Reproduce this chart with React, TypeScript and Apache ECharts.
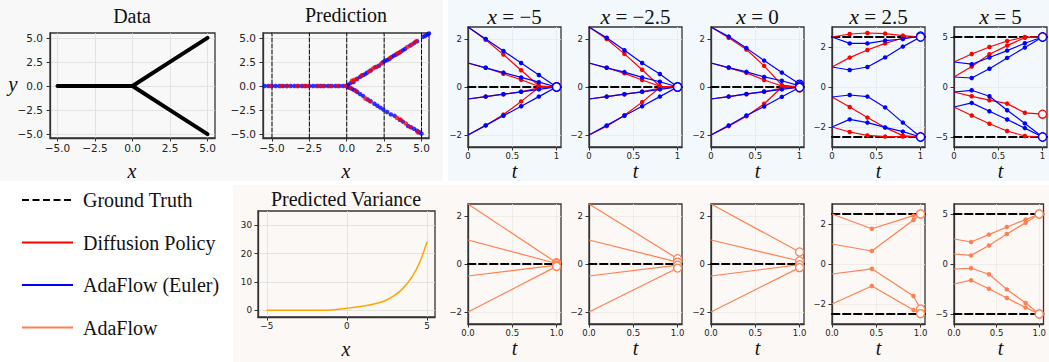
import React, { useEffect, useRef } from 'react';
import * as echarts from 'echarts';

// ---------------- data ----------------
const DATA_FLAT = [[-5, 0], [-2.5, 0], [0, 0]];
const DATA_UP = [[0, 0], [2.5, 2.5], [5, 5]];
const DATA_DOWN = [[0, 0], [2.5, -2.5], [5, -5]];

const PANEL_X = [-5, -2.5, 0, 2.5, 5];
const PANEL_LABELS = ['−5', '−2.5', '0', '2.5', '5'];

const PRED_BLUE = [
  [-5.5, 0], [-5.25, 0], [-5.0, 0], [-4.75, 0], [-4.5, 0], [-4.25, 0], [-4.0, 0], [-3.75, 0], [-3.5, 0],
  [-3.25, 0], [-3.0, 0], [-2.75, 0], [-2.5, 0], [-2.25, 0], [-2.0, 0], [-1.75, 0], [-1.5, 0], [-1.25, 0],
  [-1.0, 0], [-0.75, 0], [-0.5, 0], [-0.25, 0], [0, 0],
  [0.1, 0.12], [0.25, 0.3], [0.45, 0.4], [0.7, 0.75], [0.9, 0.95], [1.05, 1.1], [1.2, 1.2], [1.35, 1.38],
  [1.6, 1.6], [1.9, 1.95], [2.15, 2.1], [2.4, 2.45], [2.55, 2.6], [2.7, 2.7], [2.85, 2.8], [3.0, 3.0],
  [3.15, 3.15], [3.3, 3.25], [3.45, 3.4], [3.6, 3.55], [3.75, 3.7], [3.9, 3.85], [4.25, 4.2], [4.5, 4.45],
  [4.7, 4.65], [5.1, 5.1], [5.25, 5.2], [5.4, 5.35], [5.5, 5.45],
  [0.1, -0.1], [0.2, -0.2], [0.35, -0.3], [0.5, -0.42], [0.7, -0.62], [0.9, -0.85], [1.1, -1.05], [1.4, -1.4],
  [1.6, -1.6], [1.85, -1.85], [2.05, -2.05], [2.25, -2.25], [2.45, -2.45], [2.7, -2.7], [2.95, -2.95],
  [3.2, -3.1], [3.55, -3.5], [3.75, -3.7], [4.1, -4.15], [4.3, -4.3], [4.5, -4.45], [4.7, -4.65],
  [4.85, -4.8], [5.0, -4.95], [5.5, -5.45],
];
const PRED_RED = [
  [-5.1, 0], [-4.4, 0], [-4.0, 0], [-3.3, 0], [-2.85, 0], [-2.6, 0], [-1.9, 0], [-1.6, 0], [-1.1, 0], [-0.6, 0], [-0.1, 0],
  [0.35, 0.55], [0.5, 0.62], [0.65, 0.7], [1.0, 1.1], [1.5, 1.5], [1.75, 1.8], [2.0, 2.0], [2.3, 2.3],
  [2.9, 2.9], [3.35, 3.35], [3.55, 3.5], [4.05, 4.05], [4.35, 4.3], [4.6, 4.6],
  [0.25, -0.2], [0.6, -0.5], [1.25, -1.3], [1.55, -1.55], [3.35, -3.3], [3.6, -3.5], [3.95, -3.9],
  [4.25, -4.25], [4.75, -4.8],
];

const T_EULER = [0, 0.2, 0.4, 0.6, 0.8, 1];

// Diffusion Policy trajectories (per query x, 4 starts)
const DP_TRAJ = [
  [[2.5, 1.97, 1.35, 0.7, 0.05, 0], [1, 0.8, 0.55, 0.3, 0.02, 0], [-0.5, -0.4, -0.3, -0.2, -0.04, 0], [-2, -1.6, -1.15, -0.6, -0.02, 0]],
  [[2.5, 2.0, 1.38, 0.72, 0.03, 0], [1, 0.8, 0.57, 0.29, 0.03, 0], [-0.5, -0.4, -0.3, -0.2, -0.05, 0], [-2, -1.63, -1.18, -0.63, -0.02, 0]],
  [[2.5, 2.05, 1.56, 0.88, 0.08, 0], [1, 0.8, 0.59, 0.29, 0.04, 0], [-0.5, -0.4, -0.3, -0.2, -0.05, -0.02], [-2, -1.63, -1.22, -0.7, -0.01, -0.04]],
  [[2.5, 2.65, 2.7, 2.67, 2.57, 2.5], [1, 1.47, 1.85, 2.18, 2.45, 2.5], [-0.5, -1.0, -1.53, -2.03, -2.43, -2.5], [-2, -2.25, -2.42, -2.48, -2.48, -2.5]],
  [[2.5, 3.3, 4.0, 4.6, 5.0, 5.0], [1, 2.05, 3.28, 4.14, 4.93, 5], [-0.5, -0.93, -1.32, -1.66, -2.58, -2.72], [-2, -2.85, -3.68, -4.4, -4.9, -5]],
];
// AdaFlow (Euler) trajectories
const EULER_TRAJ = [
  [[2.5, 2.0, 1.5, 1.0, 0.5, 0], [1, 0.8, 0.6, 0.4, 0.2, 0], [-0.5, -0.4, -0.3, -0.2, -0.1, 0], [-2, -1.6, -1.2, -0.8, -0.4, 0]],
  [[2.5, 2.05, 1.53, 1.0, 0.54, 0], [1, 0.8, 0.62, 0.4, 0.22, 0], [-0.5, -0.4, -0.3, -0.2, -0.1, 0], [-2, -1.6, -1.2, -0.8, -0.4, 0]],
  [[2.5, 2.1, 1.62, 1.1, 0.6, 0.12], [1, 0.81, 0.63, 0.42, 0.26, 0.05], [-0.5, -0.4, -0.29, -0.19, -0.1, 0], [-2, -1.6, -1.19, -0.81, -0.41, -0.02]],
  [[2.5, 2.18, 2.18, 2.32, 2.4, 2.55], [1, 0.85, 1.0, 1.48, 2.02, 2.5], [-0.5, -0.4, -0.48, -1.02, -1.78, -2.5], [-2, -1.62, -1.78, -2.02, -2.23, -2.5]],
  [[2.5, 2.28, 2.95, 3.64, 4.37, 5], [1, 0.9, 1.82, 2.91, 3.94, 5], [-0.5, -0.33, -0.93, -2.32, -3.64, -5], [-2, -1.59, -2.42, -3.25, -4.11, -5]],
];
// AdaFlow (adaptive steps)
const ADA_T = [[0, 1], [0, 1], [0, 1], [0, 0.45, 0.92, 1], [0, 0.2, 0.41, 0.62, 0.84, 1]];
const ADA_TRAJ = [
  [[2.5, 0.05], [1, 0.02], [-0.5, -0.05], [-2, -0.1]],
  [[2.5, 0.22], [1, 0.08], [-0.5, -0.05], [-2, -0.17]],
  [[2.5, 0.5], [1, 0.125], [-0.5, -0.03], [-2, -0.15]],
  [[2.5, 1.76, 2.42, 2.5], [1, 0.65, 2.2, 2.5], [-0.5, -0.24, -1.6, -2.25], [-2, -1.1, -2.3, -2.48]],
  [[2.5, 2.2, 2.94, 3.7, 4.44, 5], [1, 0.86, 1.85, 3.0, 4.13, 5], [-0.5, -0.43, -1.02, -2.54, -3.9, -5], [-2, -1.62, -2.48, -3.4, -4.36, -5]],
];
const GT_Y = [[0], [0], [0], [2.5, -2.5], [5, -5]];
const Y_RANGE = [[-2.5, 2.5], [-2.5, 2.5], [-2.5, 2.5], [-3, 3], [-6, 6]];
const Y_TICKS = [[-2, 0, 2], [-2, 0, 2], [-2, 0, 2], [-2, 0, 2], [-5, 0, 5]];
const T_TICKS = [0, 0.5, 1];

const VAR_X = [-5, -4, -3, -2, -1.5, -1, -0.5, 0, 0.5, 1, 1.5, 2, 2.5, 3, 3.5, 4, 4.5, 5];
const VAR_Y = [0, 0, 0, 0, 0.02, 0.1, 0.35, 0.7, 1.0, 1.45, 1.95, 2.6, 3.7, 5.3, 7.7, 11.2, 16.3, 24];

const XY_TICKS = [-5, -2.5, 0, 2.5, 5];
const VAR_X_TICKS = [-5, 0, 5];
const VAR_Y_TICKS = [0, 10, 20, 30];

const LEGEND = ['Ground Truth', 'Diffusion Policy', 'AdaFlow (Euler)', 'AdaFlow'];

// ---------------- styles ----------------
const RED = '#ff0000';
const BLUE = '#0000ff';
const CORAL = '#ff7f50';
const ORANGE = '#ffa500';
const SERIF = '"Liberation Serif", "Times New Roman", serif';
const SANS = '"DejaVu Sans", sans-serif';
const SMALL_LEFTS = [468, 589, 711, 832, 954];
const SMALL_W = 93;

const minus = (v: number | string) => String(v).replace('-', '−');

function valAxis(min: number, max: number, ticks: number[], fmt: (v: number) => string, fontSize: number, margin: number, gridColor: string) {
  return {
    type: 'value',
    min,
    max,
    axisLine: { show: true, onZero: false, lineStyle: { color: '#333', width: 1.3 } },
    axisTick: { show: true, length: 3.5, customValues: ticks, lineStyle: { color: '#333', width: 1 } },
    axisLabel: { show: true, customValues: ticks, formatter: fmt, fontSize, fontFamily: SANS, color: '#222', margin },
    splitLine: { show: true, lineStyle: { color: gridColor, width: 0.8 } },
  };
}

function buildOption() {
  const grids: any[] = [];
  const xAxes: any[] = [];
  const yAxes: any[] = [];
  const series: any[] = [];

  const addPanel = (l: number, t: number, w: number, h: number, xa: any, ya: any) => {
    const idx = grids.length;
    grids.push({ left: l, top: t, width: w, height: h, show: true, borderColor: '#333', borderWidth: 1.3, backgroundColor: 'transparent' });
    xAxes.push({ gridIndex: idx, ...xa });
    yAxes.push({ gridIndex: idx, ...ya });
    return idx;
  };

  const line = (gi: number, data: any[], color: string, width: number, z: number, dash?: any) => ({
    type: 'line', xAxisIndex: gi, yAxisIndex: gi, z, silent: true, symbol: 'none', clip: false,
    lineStyle: { color, width, type: dash || 'solid', cap: 'round' },
    emphasis: { disabled: true },
    data,
  });

  const traj = (gi: number, ts: number[], ys: number[], color: string, z: number) => {
    const last = ts.length - 1;
    return {
      type: 'line', xAxisIndex: gi, yAxisIndex: gi, z, silent: true, clip: false,
      symbol: 'circle', symbolSize: 4.5, showSymbol: true, showAllSymbol: true,
      lineStyle: { color, width: 1.2 },
      itemStyle: { color },
      emphasis: { disabled: true },
      data: ts.map((t, i) => {
        if (i === 0) return { value: [t, ys[i]], symbol: 'none' };
        if (i === last) return { value: [t, ys[i]], symbol: 'circle', symbolSize: 8, itemStyle: { color: '#ffffff', borderColor: color, borderWidth: 1.3 } };
        return { value: [t, ys[i]] };
      }),
    };
  };

  const fmt1 = (v: number) => minus(v.toFixed(1));

  // Data panel
  const g0 = addPanel(50, 33, 165, 105,
    valAxis(-5.5, 5.5, XY_TICKS, fmt1, 10.5, 4, '#dddddd'),
    valAxis(-5.4, 5.5, XY_TICKS, fmt1, 10.5, 7, '#dddddd'));
  series.push(line(g0, DATA_FLAT, '#000', 4, 3));
  series.push(line(g0, DATA_UP, '#000', 4, 3));
  series.push(line(g0, DATA_DOWN, '#000', 4, 3));

  // Prediction panel
  const g1 = addPanel(263, 33, 166, 105,
    valAxis(-5.6, 5.5, XY_TICKS, fmt1, 10.5, 4, '#dddddd'),
    valAxis(-5.4, 5.5, XY_TICKS, fmt1, 10.5, 7, '#dddddd'));
  PANEL_X.forEach((x) => series.push(line(g1, [[x, -5.4], [x, 5.5]], '#000', 1, 2, [4, 2])));
  series.push({ type: 'scatter', xAxisIndex: g1, yAxisIndex: g1, z: 3, silent: true, symbolSize: 4.5, itemStyle: { color: BLUE }, data: PRED_BLUE });
  series.push({ type: 'scatter', xAxisIndex: g1, yAxisIndex: g1, z: 4, silent: true, symbolSize: 4.5, itemStyle: { color: RED }, data: PRED_RED });

  // Top trajectory panels
  PANEL_X.forEach((_, p) => {
    const gi = addPanel(SMALL_LEFTS[p], 27, SMALL_W, 120,
      valAxis(0, 1.05, T_TICKS, (v: number) => String(v), 8.5, 4, '#e4e8ec'),
      valAxis(Y_RANGE[p][0], Y_RANGE[p][1], Y_TICKS[p], (v: number) => minus(v), 8.5, 6, '#e4e8ec'));
    GT_Y[p].forEach((g) => series.push(line(gi, [[0, g], [1.05, g]], '#000', 2, 2, [7.5, 3.5])));
    DP_TRAJ[p].forEach((ys) => series.push(traj(gi, T_EULER, ys, RED, 3)));
    EULER_TRAJ[p].forEach((ys) => series.push(traj(gi, T_EULER, ys, BLUE, 4)));
  });

  // Predicted variance
  const gv = addPanel(258, 211, 177, 106,
    valAxis(-5.55, 5.5, VAR_X_TICKS, (v: number) => minus(v), 8.8, 4, '#dddddd'),
    valAxis(-2.4, 35, VAR_Y_TICKS, (v: number) => String(v), 8.8, 6, '#dddddd'));
  series.push({ ...line(gv, VAR_X.map((x, i) => [x, VAR_Y[i]]), ORANGE, 1.5, 3), smooth: 0.3 });

  // Bottom AdaFlow panels
  PANEL_X.forEach((_, p) => {
    const gi = addPanel(SMALL_LEFTS[p], 204, SMALL_W, 120,
      valAxis(0, 1.05, T_TICKS, (v: number) => v.toFixed(1), 8.5, 4, '#ece8e4'),
      valAxis(Y_RANGE[p][0], Y_RANGE[p][1], Y_TICKS[p], (v: number) => minus(v), 8.5, 6, '#ece8e4'));
    GT_Y[p].forEach((g) => series.push(line(gi, [[0, g], [1.05, g]], '#000', 2, 2, [7.5, 3.5])));
    ADA_TRAJ[p].forEach((ys) => series.push(traj(gi, ADA_T[p], ys, CORAL, 3)));
  });

  // ---------- graphics ----------
  const txt = (x: number, y: number, text: string, size: number, italic = false, align = 'center') => ({
    type: 'text', x, y, z: 100, silent: true,
    style: {
      text, fill: '#111', fontSize: size, fontFamily: SERIF, fontStyle: italic ? 'italic' : 'normal',
      textAlign: align, textVerticalAlign: 'middle',
    },
  });
  const elements: any[] = [
    { type: 'rect', z: -100, silent: true, shape: { x: 0, y: 0, width: 443, height: 181 }, style: { fill: '#f8f8f8' } },
    { type: 'rect', z: -100, silent: true, shape: { x: 448, y: 0, width: 601, height: 181 }, style: { fill: '#f3f8fd' } },
    { type: 'rect', z: -100, silent: true, shape: { x: 233, y: 185, width: 816, height: 177 }, style: { fill: '#fcf8f5' } },
    txt(132, 16, 'Data', 20),
    txt(346, 15, 'Prediction', 20),
    txt(346, 199, 'Predicted Variance', 20),
    txt(132, 170.5, 'x', 20, true),
    txt(346, 170.5, 'x', 20, true),
    txt(346, 349, 'x', 20, true),
    txt(13, 84, 'y', 21, true),
  ];
  PANEL_X.forEach((_, p) => {
    const cx = SMALL_LEFTS[p] + SMALL_W / 2;
    elements.push({
      type: 'text', x: cx, y: 16.5, z: 100, silent: true,
      style: {
        text: `{i|x}{n| = ${PANEL_LABELS[p]}}`,
        fill: '#111', fontSize: 21, fontFamily: SERIF, textAlign: 'center', textVerticalAlign: 'middle',
        rich: {
          i: { fontStyle: 'italic', fontSize: 22, fontFamily: SERIF, fill: '#111' },
          n: { fontStyle: 'normal', fontSize: 21, fontFamily: SERIF, fill: '#111' },
        },
      },
    });
    elements.push(txt(cx, 170.5, 't', 20, true));
    elements.push(txt(cx, 348, 't', 20, true));
  });
  const legendY = [200, 242.5, 285, 327.5];
  const legendColors = ['#000', RED, BLUE, CORAL];
  LEGEND.forEach((name, i) => {
    elements.push({
      type: 'line', z: 100, silent: true,
      shape: { x1: 22, y1: legendY[i], x2: 73, y2: legendY[i] },
      style: { stroke: legendColors[i], lineWidth: 2, lineDash: i === 0 ? [7, 3.5] : null },
    });
    elements.push(txt(83, legendY[i], name, 20, false, 'left'));
  });

  return {
    animation: false,
    grid: grids,
    xAxis: xAxes,
    yAxis: yAxes,
    series,
    graphic: { elements },
  };
}

export default function App() {
  const ref = useRef<HTMLDivElement>(null);
  useEffect(() => {
    if (!ref.current) return;
    const chart = echarts.init(ref.current, null, { renderer: 'svg' });
    chart.setOption(buildOption() as any);
    return () => chart.dispose();
  }, []);
  return (
    <div
      ref={ref}
      style={{ position: 'absolute', left: 0, top: 0, width: 1049, height: 362, background: '#ffffff' }}
    />
  );
}
